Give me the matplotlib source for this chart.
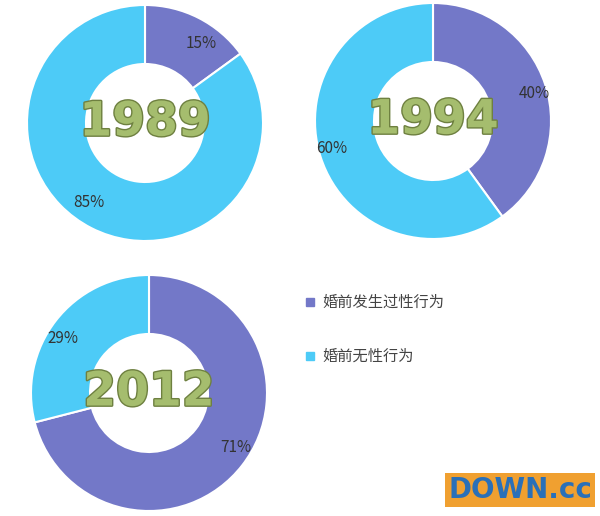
import matplotlib.pyplot as plt
import matplotlib.patheffects as pe

plt.rcParams['font.family'] = ['Noto Sans CJK SC', 'DejaVu Sans']

years = ['1989', '1994', '2012']
premarital = [15, 40, 71]
none = [85, 60, 29]
legend_labels = ['婚前发生过性行为', '婚前无性行为']
colors = ['#7378C8', '#4DCBF7']

W, H = 600, 516
fig = plt.figure(figsize=(6, 5.16), dpi=100)
R = 118
centers = [(145, 123), (433, 121), (149, 393)]

for (cx, cy), yr, a, b in zip(centers, years, premarital, none):
    ax = fig.add_axes([(cx - R) / W, 1 - (cy + R) / H, 2 * R / W, 2 * R / H])
    wedges, texts = ax.pie([a, b], colors=colors, startangle=90, counterclock=False,
                           wedgeprops=dict(width=0.5, edgecolor='white', linewidth=1.5),
                           labels=[f'{a}%', f'{b}%'], labeldistance=0.76,
                           textprops=dict(fontsize=11, color='#333333'))
    ax.set_xlim(-1, 1)
    ax.set_ylim(-1, 1)
    ax.set_aspect('equal')
    ax.text(0, 0, yr, ha='center', va='center', fontsize=34, fontweight='bold',
            color='#A5BD6E', family='DejaVu Sans',
            path_effects=[pe.withStroke(linewidth=2, foreground='#6E8040')])

for i, (lab, c) in enumerate(zip(legend_labels, colors)):
    y = 1 - (302 + i * 54) / H
    fig.patches.append(plt.Rectangle((306 / W, y - 4 / H), 8 / W, 8 / H,
                                     transform=fig.transFigure, color=c))
    fig.text(322 / W, y, lab, va='center', fontsize=11, color='#444444')

fig.text(520 / W, 1 - 490 / H, 'DOWN.cc', ha='center', va='center', fontsize=20,
         fontweight='bold', color='#2A70B8', family='DejaVu Sans',
         bbox=dict(facecolor='#F0A030', edgecolor='none', pad=2))

fig.savefig('out.png', dpi=100)
